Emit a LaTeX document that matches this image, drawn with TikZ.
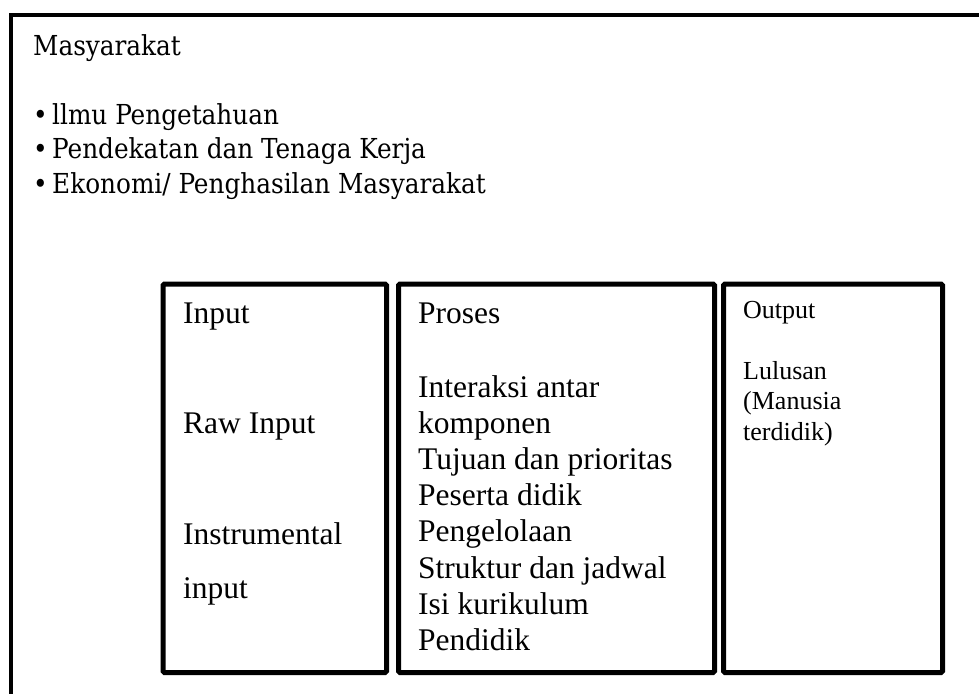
\documentclass[tikz,border=0pt]{standalone}
\usepackage{fontspec}
\setmainfont{Liberation Serif}
\IfFontExistsTF{DejaVu Serif Condensed}{\newfontfamily\topfont{DejaVu Serif Condensed}}{\newfontfamily\topfont[FakeStretch=0.9]{DejaVu Serif}}
\newcommand{\toplines}[1]{\begin{tabular}[t]{@{}l@{}}#1\end{tabular}}
\begin{document}
\begin{tikzpicture}[x=1pt,y=-1pt,
  box/.style={draw,line width=5pt,rounded corners=1.5pt,anchor=north west,inner sep=0pt},
  toptxt/.style={anchor=base west,inner sep=0pt,font=\topfont\fontsize{27.5}{34.5}\selectfont},
  bigtxt/.style={anchor=base west,inner sep=0pt,font=\fontsize{31.5}{36.2}\selectfont},
  smalltxt/.style={anchor=base west,inner sep=0pt,font=\fontsize{26}{30.5}\selectfont}]
\useasboundingbox (0,0) rectangle (979,693);
\clip (0,0) rectangle (979,693);
\fill[white] (0,0) rectangle (979,693);
% outer frame (extends past the picture at right and bottom)
\draw[line width=4.6pt] (10.8,720) -- (10.8,15) -- (1000,15);
% top texts
\node[toptxt] (mas) at (33,56) {Masyarakat};
\node[toptxt] (b1) at (33,124) {•};
\node[toptxt] (t1) at (52,124) {llmu Pengetahuan};
\node[toptxt] (b2) at (33,158.5) {•};
\node[toptxt] (t2) at (52,158.5) {Pendekatan dan Tenaga Kerja};
\node[toptxt] (b3) at (33,193) {•};
\node[toptxt] (t3) at (52,193) {Ekonomi/ Penghasilan Masyarakat};
% boxes
\node[box,minimum width=223.5pt,minimum height=388.5pt] (input) at (160.5,281.5) {};
\node[box,minimum width=316pt,minimum height=388.5pt] (proses) at (396,281.5) {};
\node[box,minimum width=219pt,minimum height=388.5pt] (output) at (721,281.5) {};
% input texts
\node[bigtxt] (inp) at (183,323) {Input};
\node[bigtxt] (raw) at (183,433) {Raw Input};
\node[bigtxt] (ins) at (183,544) {Instrumental};
\node[bigtxt] (ins2) at (183,598) {input};
% proses texts
\node[bigtxt] (pro) at (418,323) {Proses};
\node[bigtxt] (prolist) at (418,397) {\toplines{Interaksi antar\\komponen\\Tujuan dan prioritas\\Peserta didik\\Pengelolaan\\Struktur dan jadwal\\Isi kurikulum\\Pendidik}};
% output texts
\node[smalltxt] (out) at (743,318) {Output};
\node[smalltxt] (lul) at (743,379) {\toplines{Lulusan\\(Manusia\\terdidik)}};
\end{tikzpicture}
\end{document}
